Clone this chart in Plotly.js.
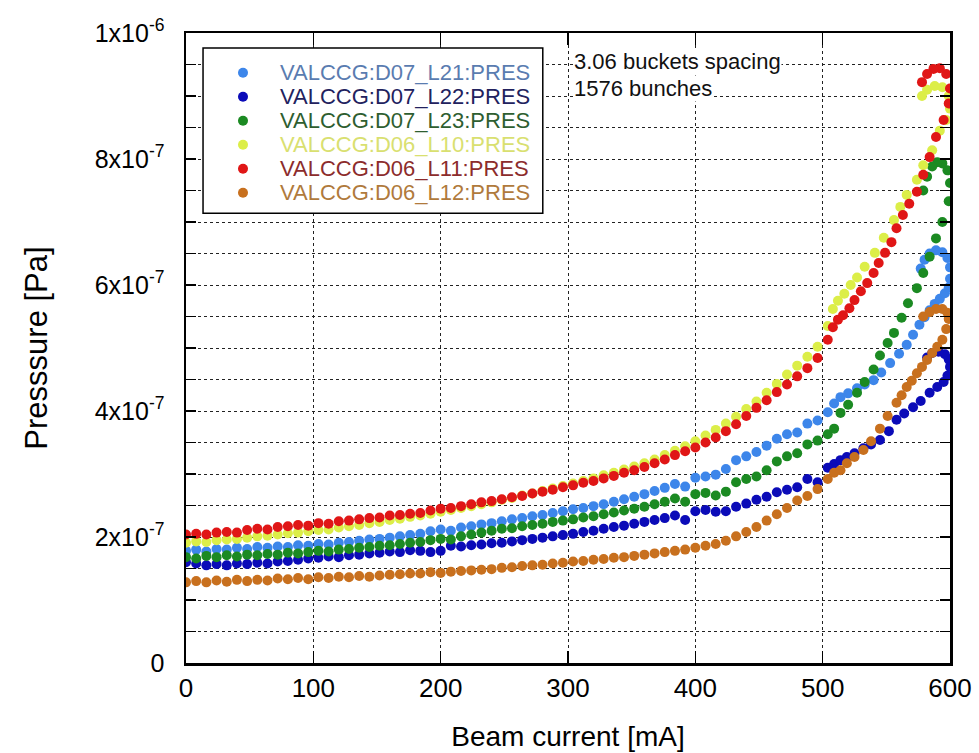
<!DOCTYPE html>
<html>
<head>
<meta charset="utf-8">
<script src="https://cdn.plot.ly/plotly-3.0.1.min.js"></script>
<style>html,body{margin:0;padding:0;background:#fff;}#chart{width:979px;height:753px;}</style>
</head>
<body>
<div id="chart"></div>
<script>
// Beam current [mA] for the common (slow ramp) part of the scan
const current = [0,8,16,24,32,40,48,56,64,72,80,88,96,104,112,120,128,136,144,152,160,168,176,184,192,200,208,216,224,232,240,248,256,264,272,280,288,296,304,312,320,328,336,344,352,360,368,376,384,392,400,408,416,424,432,440,448,456,464,472,480,488,496,504];

// Pressure values in units of 1e-7 Pa
const L21_base = [1.78,1.80,1.77,1.81,1.80,1.83,1.81,1.84,1.83,1.85,1.84,1.87,1.86,1.89,1.88,1.91,1.92,1.94,1.96,1.97,1.99,2.01,2.03,2.05,2.09,2.12,2.10,2.15,2.17,2.20,2.22,2.25,2.28,2.30,2.33,2.35,2.38,2.41,2.44,2.46,2.49,2.52,2.56,2.60,2.64,2.68,2.73,2.78,2.84,2.80,2.94,2.96,2.99,3.08,3.22,3.28,3.35,3.45,3.56,3.63,3.66,3.80,3.85,3.98];
const L21_tailX = [509,514,520,527,533,540,546,553,560,566,571,576,580,584,588,592,596,599,600,600,598,594,589,584,580,577];
const L21_tailY = [4.12,4.22,4.28,4.36,4.42,4.49,4.61,4.76,4.91,5.05,5.21,5.37,5.49,5.60,5.70,5.78,5.87,5.96,6.10,6.28,6.43,6.52,6.55,6.50,6.40,6.26];

const L22_base = [1.60,1.58,1.55,1.57,1.55,1.58,1.57,1.59,1.58,1.61,1.62,1.64,1.66,1.67,1.69,1.68,1.71,1.72,1.74,1.75,1.77,1.76,1.79,1.78,1.76,1.78,1.86,1.85,1.87,1.88,1.90,1.91,1.93,1.95,1.97,1.99,2.01,2.03,2.05,2.08,2.10,2.13,2.16,2.18,2.21,2.24,2.27,2.30,2.34,2.27,2.41,2.43,2.40,2.41,2.48,2.53,2.59,2.64,2.71,2.75,2.79,2.92,2.87,3.10];
const L22_tailX = [509,514,519,525,532,538,545,552,558,564,571,577,584,590,595,598,600,599,596,591,586,582];
const L22_tailY = [3.16,3.22,3.27,3.33,3.41,3.47,3.54,3.68,3.86,3.96,4.06,4.16,4.29,4.38,4.46,4.56,4.70,4.82,4.90,4.94,4.92,4.85];

const L23_base = [1.68,1.66,1.70,1.68,1.71,1.69,1.72,1.71,1.73,1.72,1.75,1.74,1.76,1.78,1.77,1.80,1.81,1.83,1.84,1.86,1.87,1.89,1.91,1.92,1.95,1.97,1.96,2.01,2.04,2.07,2.10,2.13,2.14,2.17,2.19,2.21,2.24,2.26,2.28,2.31,2.33,2.36,2.39,2.42,2.45,2.48,2.52,2.56,2.61,2.56,2.68,2.70,2.66,2.72,2.87,2.92,2.96,3.06,3.20,3.28,3.33,3.47,3.53,3.63];
const L23_tailX = [509,514,520,527,533,540,545,551,556,562,567,574,579,584,589,594,599,600,598,594,590,586,582,579];
const L23_tailY = [3.72,3.97,4.10,4.29,4.46,4.66,4.88,5.08,5.24,5.48,5.71,5.95,6.19,6.45,6.74,7.00,7.33,7.62,7.82,7.93,7.95,7.88,7.72,7.50];

const L10_base = [1.91,1.93,1.92,1.95,1.96,1.97,1.99,2.01,2.02,2.04,2.06,2.07,2.09,2.11,2.12,2.15,2.17,2.19,2.22,2.24,2.27,2.29,2.32,2.34,2.37,2.40,2.43,2.46,2.49,2.52,2.55,2.59,2.62,2.66,2.69,2.73,2.77,2.81,2.85,2.89,2.93,2.98,3.02,3.07,3.12,3.17,3.23,3.30,3.37,3.44,3.52,3.61,3.70,3.80,3.91,4.03,4.15,4.29,4.43,4.58,4.72,4.86,5.02,5.35];
const L10_tailX = [508,512,517,522,527,533,541,548,556,561,566,574,579,586,592,597,600,599,594,588,582,578];
const L10_tailY = [5.62,5.75,5.86,6.00,6.12,6.29,6.51,6.75,7.03,7.24,7.43,7.67,7.90,8.14,8.45,8.62,8.80,9.00,9.14,9.16,9.10,9.00];

const L11_base = [2.04,2.05,2.04,2.07,2.08,2.07,2.11,2.13,2.12,2.16,2.17,2.19,2.18,2.22,2.21,2.25,2.26,2.28,2.30,2.31,2.34,2.35,2.37,2.38,2.42,2.45,2.46,2.49,2.52,2.55,2.57,2.60,2.63,2.65,2.69,2.72,2.75,2.79,2.82,2.86,2.89,2.93,2.97,3.02,3.06,3.11,3.17,3.23,3.30,3.36,3.42,3.50,3.58,3.68,3.79,3.92,4.05,4.17,4.30,4.42,4.55,4.68,4.84,5.13];
const L11_tailX = [508,512,516,521,525,530,535,540,544,549,554,558,563,568,574,579,584,589,595,599,600,597,592,587,582,578];
const L11_tailY = [5.33,5.45,5.52,5.63,5.76,5.90,6.03,6.19,6.35,6.51,6.68,6.90,7.11,7.29,7.48,7.75,8.03,8.35,8.62,8.88,9.12,9.35,9.44,9.43,9.35,9.22];

const L12_base = [1.28,1.30,1.28,1.31,1.29,1.32,1.30,1.32,1.31,1.34,1.33,1.35,1.33,1.36,1.35,1.37,1.36,1.38,1.37,1.39,1.40,1.41,1.42,1.42,1.44,1.43,1.45,1.46,1.47,1.48,1.49,1.51,1.52,1.54,1.55,1.56,1.58,1.59,1.61,1.62,1.64,1.65,1.67,1.68,1.70,1.72,1.74,1.76,1.78,1.80,1.83,1.86,1.89,1.94,2.01,2.08,2.16,2.26,2.36,2.46,2.58,2.65,2.76,2.92];
const L12_tailX = [509,514,519,525,532,538,545,551,558,562,566,570,574,578,582,586,590,594,597,599,598,594,589,584,579];
const L12_tailY = [3.02,3.06,3.17,3.27,3.38,3.52,3.72,3.92,4.13,4.25,4.38,4.48,4.60,4.70,4.81,4.92,5.02,5.13,5.30,5.46,5.56,5.62,5.62,5.57,5.50];

const seriesNames = ["VALCCG:D07_L21:PRES","VALCCG:D07_L22:PRES","VALCCG:D07_L23:PRES","VALCCG:D06_L10:PRES","VALCCG:D06_L11:PRES","VALCCG:D06_L12:PRES"];
const markerColors = ["#3d86ea","#0b0bb8","#1b8a22","#dcee48","#e01616","#c8701e"];
const legendTextColors = ["#5a7cb0","#22225e","#2e5e30","#d9e070","#8c2c2c","#b07a3c"];

const yTickVals = [0,2,4,6,8,10];
const yTickText = ["0","2x10<sup>-7</sup>","4x10<sup>-7</sup>","6x10<sup>-7</sup>","8x10<sup>-7</sup>","1x10<sup>-6</sup>"];
const xTickVals = [0,100,200,300,400,500,600];
const noteLines = ["3.06 buckets spacing","1576 bunches"];

const bases = [L21_base,L22_base,L23_base,L10_base,L11_base,L12_base];
const tailsX = [L21_tailX,L22_tailX,L23_tailX,L10_tailX,L11_tailX,L12_tailX];
const tailsY = [L21_tailY,L22_tailY,L23_tailY,L10_tailY,L11_tailY,L12_tailY];

const FONT = '"Liberation Sans", Arial, sans-serif';

const traces = seriesNames.map((n, i) => ({
  type: 'scatter',
  mode: 'markers',
  name: n,
  x: current.concat(tailsX[i]),
  y: bases[i].concat(tailsY[i]),
  marker: {color: markerColors[i], size: 10, line: {width: 0}},
  showlegend: false,
  hoverinfo: 'x+y'
}));

// custom legend box (geometry in paper coords)
const lgX0 = 0.0223, lgX1 = 0.467, lgY0 = 0.714, lgY1 = 0.976;
const rowTop = 0.937, rowStep = 24/630;
const shapes = [{type:'rect', xref:'paper', yref:'paper', x0:lgX0, x1:lgX1, y0:lgY0, y1:lgY1,
  line:{color:'#000', width:1.5}, fillcolor:'#fff', layer:'above'}];
const annotations = [];
seriesNames.forEach((n, i) => {
  const yy = rowTop - i*rowStep;
  shapes.push({type:'circle', xref:'paper', yref:'paper', xsizemode:'pixel', ysizemode:'pixel',
    xanchor:0.0746, yanchor:yy, x0:-5, x1:5, y0:-5, y1:5,
    fillcolor: markerColors[i], line:{width:0}, layer:'above'});
  annotations.push({xref:'paper', yref:'paper', x:0.1204, y:yy, xanchor:'left', yanchor:'middle',
    text:n, showarrow:false, font:{family:FONT, size:22, color:legendTextColors[i]}});
});
noteLines.forEach((t, i) => {
  annotations.push({xref:'paper', yref:'paper', x:0.507, y:(663-62-26*i)/630, xanchor:'left', yanchor:'middle',
    text:t, showarrow:false, bgcolor:'#fff', borderpad:0,
    font:{family:FONT, size:22, color:'#111'}});
});

const gridStyle = {showgrid: true, gridcolor: '#222', griddash: 'dot', gridwidth: 1};

const layout = {
  width: 979, height: 753,
  margin: {l:186, r:29, t:33, b:90},
  paper_bgcolor: '#fff', plot_bgcolor: '#fff',
  font: {family: FONT, color: '#000'},
  showlegend: false,
  xaxis: Object.assign({
    range: [0, 600], tickvals: xTickVals, ticks: 'inside', ticklen: 12, tickwidth: 1.5, tickcolor:'#000',
    showline: true, linewidth: 2.5, linecolor: '#000', mirror: 'ticks',
    zeroline: false, tickfont: {family: FONT, size: 26, color:'#000'},
    title: {text: 'Beam current [mA]', font: {family: FONT, size: 28, color:'#000'}, standoff: 25}
  }, gridStyle),
  yaxis: Object.assign({
    range: [0, 10], tickvals: yTickVals, ticktext: yTickText, ticks: 'inside', ticklen: 10, tickwidth: 1.5, tickcolor:'#000',
    showline: true, linewidth: 2.5, linecolor: '#000', mirror: 'ticks',
    zeroline: false, tickfont: {family: FONT, size: 25, color:'#000'}, ticklabelstandoff: 14,
    minor: {dtick: 0.5, ticks: 'inside', ticklen: 10, tickwidth: 1.5, tickcolor: '#000',
            showgrid: true, gridcolor: '#222', griddash: 'dot', gridwidth: 1},
    title: {text: 'Presssure [Pa]', font: {family: FONT, size: 31, color:'#000'}, standoff: 38}
  }, gridStyle),
  shapes: shapes,
  annotations: annotations
};

Plotly.newPlot('chart', traces, layout, {displayModeBar: false, staticPlot: true});
</script>
</body>
</html>
